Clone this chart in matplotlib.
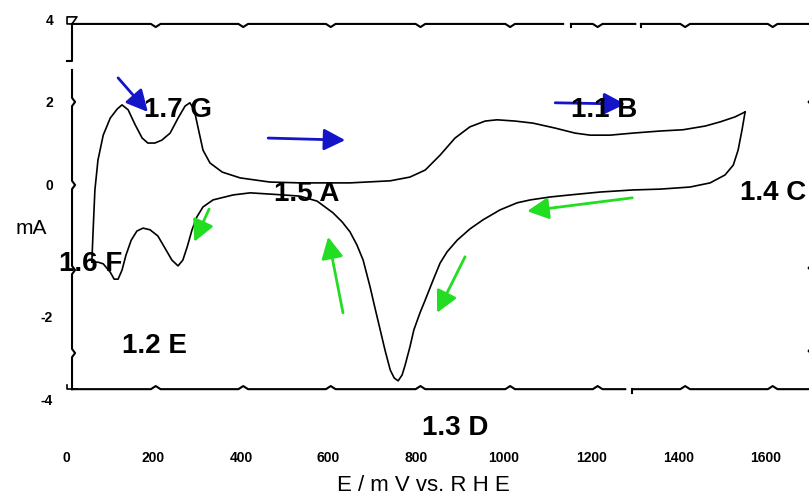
import numpy as np
import matplotlib
matplotlib.use('Agg')
import matplotlib.pyplot as plt

plt.rcParams['font.family'] = ['Liberation Sans', 'DejaVu Sans']

# anodic sweep (mV vs RHE, mA)
E_up = [59, 62, 66, 73, 85, 101, 117, 128, 142, 158, 174, 187, 203, 219, 238, 256, 272, 283,
        293, 302, 313, 329, 357, 398, 466, 535, 649, 741, 786, 821, 855, 889, 923, 958, 985,
        1026, 1067, 1118, 1163, 1198, 1243, 1296, 1358, 1410, 1461, 1495, 1529, 1552]
I_up = [-1.86, -1.08, -0.12, 0.60, 1.20, 1.61, 1.83, 1.93, 1.81, 1.45, 1.13, 1.01, 1.01, 1.08,
        1.25, 1.61, 1.90, 1.98, 1.81, 1.37, 0.84, 0.53, 0.31, 0.17, 0.07, 0.05, 0.05, 0.10,
        0.19, 0.36, 0.72, 1.13, 1.40, 1.54, 1.57, 1.54, 1.49, 1.37, 1.25, 1.20, 1.20, 1.25,
        1.30, 1.33, 1.42, 1.52, 1.64, 1.76]

# cathodic sweep
E_down = [1552, 1545, 1536, 1525, 1506, 1472, 1426, 1358, 1296, 1221, 1152, 1106, 1061, 1031,
          992, 953, 923, 894, 871, 855, 839, 821, 809, 795, 786, 775, 768, 759, 750, 741, 729,
          718, 706, 695, 679, 665, 649, 631, 610, 574, 535, 496, 421, 382, 336, 313, 299, 288,
          277, 267, 256, 242, 226, 210, 192, 176, 162, 149, 137, 128, 119, 110, 101, 85, 73, 59]
I_down = [1.76, 1.33, 0.84, 0.48, 0.24, 0.05, -0.05, -0.10, -0.12, -0.17, -0.24, -0.29, -0.36,
          -0.43, -0.60, -0.84, -1.06, -1.33, -1.61, -1.88, -2.29, -2.77, -3.08, -3.49, -3.90,
          -4.34, -4.58, -4.72, -4.65, -4.46, -3.98, -3.49, -2.96, -2.46, -1.81, -1.45, -1.13,
          -0.89, -0.67, -0.39, -0.27, -0.24, -0.19, -0.24, -0.36, -0.53, -0.77, -1.08, -1.49,
          -1.81, -1.95, -1.81, -1.52, -1.23, -1.08, -1.04, -1.11, -1.33, -1.69, -2.05, -2.27,
          -2.27, -2.10, -1.90, -1.86, -1.86]

x_ticks = [0, 200, 400, 600, 800, 1000, 1200, 1400, 1600]
y_tick_pos = [3.98, 2.0, 0.0, -3.18, -5.18]
y_tick_labels = ['4', '2', '0', '-2', '-4']

labels = ['1.7 G', '1.5 A', '1.1 B', '1.4 C', '1.3 D', '1.2 E', '1.6 F']
label_x = [256, 549, 1230, 1541, 889, 203, 57]
label_y = [1.81, -0.22, 1.81, -0.19, -5.86, -3.88, -1.90]
label_ha = ['center', 'center', 'center', 'left', 'center', 'center', 'center']

# arrows: (tail, head)
blue_arrows = [((119, 2.58), (187, 1.76)),
               ((462, 1.13), (638, 1.08)),
               ((1118, 1.98), (1278, 1.95))]
green_arrows = [((327, -0.58), (293, -1.37)),
                ((1294, -0.31), (1054, -0.63)),
                ((633, -3.08), (599, -1.25)),
                ((912, -1.73), (848, -3.08))]

x_left, y_top, y_bottom = 13.7, 3.88, -4.92
bump_x = [205, 405, 605, 810, 1015, 1215, 1415, 1615]
bump_y = [2.0, 0.0, -2.05, -4.05]


def hline(x0, x1, y, bumps, h, w=22):
    xs, ys = [x0], [y]
    for b in bumps:
        if x0 < b < x1:
            xs += [b - w / 2, b, b + w / 2]
            ys += [y, y + h, y]
    xs.append(x1)
    ys.append(y)
    return xs, ys


def vline(y0, y1, x, bumps, h, w=0.2):
    xs, ys = [x], [y0]
    for b in sorted(bumps, reverse=True):
        if y1 < b < y0:
            ys += [b + w / 2, b, b - w / 2]
            xs += [x, x + h, x]
    ys.append(y1)
    xs.append(x)
    return xs, ys


fig = plt.figure(figsize=(8.09, 4.96), dpi=100)
ax = fig.add_axes([0.0742, 0.1585, 0.9258, 0.8284])
ax.set_xlim(-13.7, 1698)
ax.set_ylim(-5.6, 4.3)
for s in ax.spines.values():
    s.set_visible(False)

# hand drawn looking frame
fk = dict(color='black', lw=1.5, solid_joinstyle='round')
for a, b in [(x_left, 1136), (1154, 1301), (1314, 1720)]:
    ax.plot(*hline(a, b, y_top, bump_x, -0.075), **fk)
for a, b in [(x_left, 1278), (1294, 1720)]:
    ax.plot(*hline(a, b, y_bottom, bump_x, 0.075), **fk)
ax.plot([1294, 1294], [y_bottom, y_bottom - 0.1], **fk)
ax.plot([1154, 1154], [y_top, y_top - 0.08], **fk)
ax.plot([1314, 1314], [y_top, y_top - 0.08], **fk)
ax.plot([x_left, x_left, 2.3], [y_top, 2.99, 2.99], **fk)
ax.plot(*vline(2.77, y_bottom, x_left, bump_y, 7), **fk)
ax.plot([x_left, 2.3, 2.3, 25, x_left], [y_top, y_top, 4.05, 4.05, y_top], color='black', lw=1.2)
ax.plot([2.3, 2.3, 25], [y_bottom + 0.1, y_bottom, y_bottom], color='black', lw=1.2)
ax.plot(*vline(4.2, -5.2, 1703, [2.0, -2.0, -4.0], -6, w=0.12), **fk)

# cyclic voltammogram
ax.plot(E_up, I_up, color='black', lw=1.2, solid_joinstyle='round')
ax.plot(E_down, I_down, color='black', lw=1.2, solid_joinstyle='round')

arr = dict(arrowstyle='-|>,head_length=0.65,head_width=0.33', mutation_scale=20, lw=2,
           shrinkA=0, shrinkB=0)
for tail, head in blue_arrows:
    ax.annotate('', xy=head, xytext=tail,
                arrowprops=dict(color='#1414c8', **arr), zorder=4)
for tail, head in green_arrows:
    ax.annotate('', xy=head, xytext=tail,
                arrowprops=dict(color='#22dd22', **arr), zorder=4)

for t, x, y, ha in zip(labels, label_x, label_y, label_ha):
    ax.text(x, y, t, fontsize=20, fontweight='bold', ha=ha, va='center', zorder=6,
            clip_on=False)

ax.set_xticks(x_ticks)
ax.set_xticklabels([str(v) for v in x_ticks], fontsize=10, fontweight='bold')
ax.set_yticks(y_tick_pos)
ax.set_yticklabels(y_tick_labels, fontsize=10, fontweight='bold')
ax.tick_params(axis='x', length=0, pad=24)
ax.tick_params(axis='y', length=0, pad=5)

ax.set_xlabel('E / m V vs. R H E', fontsize=16)
ax.xaxis.set_label_coords(0.4846, -0.14)
ax.set_ylabel('mA', fontsize=15, rotation=0, ha='center', va='center')
ax.yaxis.set_label_coords(-0.0387, 0.46)

fig.savefig('out.png', dpi=100)
